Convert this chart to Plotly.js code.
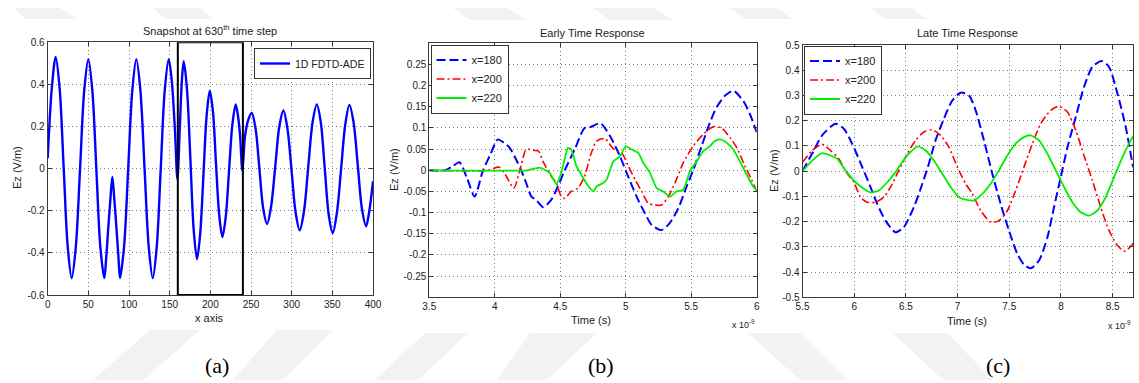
<!DOCTYPE html>
<html>
<head>
<meta charset="utf-8">
<script src="https://cdn.plot.ly/plotly-3.0.1.min.js"></script>
<style>
  html, body { margin: 0; padding: 0; background: #ffffff; }
  #chart { width: 1139px; height: 383px; }
</style>
</head>
<body>
<div id="chart"></div>
<script>
// ---- (a) spatial snapshot of Ez along the 1D grid ----
const snapX = [0,5,9.8,14.7,19.7,24.6,29.5,34.6,39.8,44.9,
  50,54.9,59.8,64.7,69.6,72,74.5,77,79.5,82,
  84.5,87,88.9,93.9,99,104,109,114,119.1,124.2,
  129.2,134.1,139,143.9,148.8,152.5,156.5,159.5,162.5,165,
  167.3,171.4,175.5,179.5,183.6,187.5,191.5,195.4,199.3,203.2,
  207,210.9,214.8,218.9,223,227.1,231.2,234,236.5,239.4,
  242.5,246.5,250.9,255.6,260.3,265,269.7,274.7,279.8,284.8,
  289.8,294.8,299.9,304.9,309.9,315.2,320.4,325.7,330.9,335.8,
  340.7,345.6,350.5,355.6,360.8,365.9,371,376.1,381.3,386.4,
  391.5,395.5,400];
const snapEz = [0.05,0.38,0.53,0.38,0.0,-0.37,-0.52,-0.37,0.0,0.37,
  0.52,0.37,0.0,-0.37,-0.52,-0.42,-0.28,-0.15,-0.04,-0.15,
  -0.28,-0.42,-0.52,-0.37,0.0,0.37,0.52,0.37,0.0,-0.37,
  -0.52,-0.37,0.0,0.37,0.52,0.42,0.18,-0.05,0.2,0.42,
  0.51,0.37,0.04,-0.29,-0.43,-0.31,-0.03,0.25,0.37,0.27,
  0.02,-0.22,-0.325,-0.23,-0.01,0.21,0.305,0.25,0.16,-0.01,
  0.15,0.23,0.264,0.19,0.0,-0.19,-0.263,-0.18,0.01,0.2,
  0.276,0.19,-0.01,-0.21,-0.293,-0.2,0.01,0.22,0.305,0.22,
  0.0,-0.22,-0.306,-0.21,0.0,0.21,0.303,0.22,0.015,-0.19,
  -0.274,-0.2,-0.06];
const slabStart = 160, slabEnd = 240;

// ---- (b) early time response (time in units of 1e-9 s) ----
const earlyT180 = [3.5,3.62,3.68,3.73,3.79,3.846,3.91,3.96,4.024,4.07,
  4.114,4.164,4.202,4.24,4.279,4.317,4.368,4.431,4.482,4.534,
  4.61,4.686,4.737,4.807,4.88,4.956,5.007,5.083,5.147,5.198,
  5.274,5.337,5.401,5.465,5.515,5.579,5.643,5.694,5.757,5.821,
  5.897,5.948,6.0];
const earlyE180 = [0,0,0.01,0.019,-0.02,-0.062,0,0.033,0.073,0.065,
  0.053,0.025,0,-0.03,-0.062,-0.07,-0.087,-0.07,-0.038,0,
  0.049,0.1,0.103,0.111,0.081,0.033,-0.006,-0.062,-0.102,-0.129,
  -0.141,-0.124,-0.09,-0.038,0,0.057,0.113,0.149,0.176,0.188,
  0.164,0.133,0.09];
const earlyT200 = [3.5,3.95,4.03,4.08,4.145,4.2,4.24,4.3,4.335,4.368,
  4.431,4.47,4.508,4.534,4.584,4.635,4.686,4.737,4.778,4.841,
  4.905,4.969,5.02,5.071,5.122,5.173,5.224,5.274,5.325,5.376,
  5.44,5.515,5.592,5.668,5.732,5.796,5.847,5.91,5.961,6.0];
const earlyE200 = [0,0,0.008,-0.01,-0.042,0.01,0.049,0.047,0.045,0.021,
  -0.014,-0.03,-0.062,-0.066,-0.05,-0.042,-0.014,0.041,0.069,0.075,
  0.051,0.041,0.01,-0.022,-0.05,-0.078,-0.082,-0.082,-0.062,-0.03,
  0.018,0.057,0.085,0.103,0.1,0.077,0.054,0.01,-0.022,-0.05];
const earlyT220 = [3.5,4.25,4.3,4.35,4.419,4.47,4.508,4.559,4.584,4.623,
  4.66,4.698,4.753,4.778,4.828,4.854,4.905,4.956,5.001,5.045,
  5.096,5.134,5.185,5.236,5.286,5.337,5.388,5.44,5.49,5.541,
  5.592,5.643,5.681,5.719,5.77,5.821,5.872,5.922,5.973,6.0];
const earlyE220 = [0,0,0.004,0.006,-0.006,-0.032,-0.006,0.053,0.049,0.01,
  -0.01,-0.03,-0.05,-0.038,-0.03,-0.022,0.021,0.033,0.057,0.049,
  0.041,0.018,-0.006,-0.042,-0.05,-0.062,-0.05,-0.046,-0.002,0.021,
  0.045,0.057,0.069,0.073,0.065,0.049,0.021,-0.01,-0.038,-0.048];

// ---- (c) late time response ----
const lateT180 = [5.5,5.61,5.69,5.82,5.9,5.98,6.078,6.158,6.223,6.303,
  6.4,6.48,6.577,6.659,6.722,6.787,6.868,6.949,7.03,7.11,
  7.175,7.255,7.336,7.417,7.497,7.578,7.642,7.707,7.788,7.869,
  7.933,7.998,8.063,8.143,8.223,8.304,8.394,8.465,8.547,8.627,
  8.692,8.7];
const lateE180 = [0.0,0.082,0.142,0.188,0.168,0.109,0.016,-0.063,-0.13,-0.196,
  -0.242,-0.222,-0.143,-0.05,0.029,0.122,0.208,0.28,0.311,0.3,
  0.241,0.122,-0.01,-0.13,-0.235,-0.328,-0.37,-0.385,-0.354,-0.262,
  -0.143,-0.024,0.095,0.214,0.333,0.413,0.437,0.413,0.307,0.175,
  0.029,0.015];
const lateT200 = [5.5,5.594,5.69,5.77,5.851,5.933,5.997,6.061,6.126,6.207,
  6.287,6.352,6.432,6.514,6.594,6.674,6.756,6.836,6.916,6.998,
  7.078,7.143,7.223,7.32,7.4,7.482,7.562,7.642,7.724,7.804,
  7.901,7.981,8.063,8.143,8.223,8.304,8.385,8.465,8.547,8.62,
  8.692,8.7];
const lateE200 = [0.035,0.082,0.106,0.082,0.049,-0.01,-0.044,-0.103,-0.123,-0.123,
  -0.103,-0.063,0.003,0.069,0.122,0.155,0.164,0.142,0.095,0.016,
  -0.05,-0.09,-0.156,-0.202,-0.196,-0.156,-0.077,0.016,0.109,0.188,
  0.241,0.257,0.234,0.162,0.062,-0.037,-0.143,-0.235,-0.295,-0.317,
  -0.29,-0.285];
const lateT220 = [5.5,5.594,5.69,5.77,5.836,5.916,6.013,6.093,6.158,6.239,
  6.32,6.4,6.465,6.529,6.616,6.691,6.771,6.852,6.933,7.013,
  7.078,7.159,7.24,7.32,7.4,7.482,7.562,7.642,7.707,7.788,
  7.869,7.95,8.03,8.111,8.192,8.272,8.353,8.433,8.514,8.595,
  8.675,8.7];
const lateE220 = [0.0,0.042,0.071,0.062,0.049,0.003,-0.044,-0.07,-0.085,-0.077,
  -0.044,-0.004,0.036,0.069,0.098,0.082,0.042,-0.01,-0.063,-0.103,
  -0.113,-0.116,-0.09,-0.05,0.003,0.062,0.109,0.135,0.142,0.122,
  0.069,0.003,-0.063,-0.123,-0.163,-0.176,-0.156,-0.103,-0.024,0.056,
  0.122,0.14];

// ---- tick values and labels ----
const ticksAX = [0,50,100,150,200,250,300,350,400];
const ticksAY = [-0.6,-0.4,-0.2,0,0.2,0.4,0.6];
const labelsAY = ['-0.6','-0.4','-0.2','0','0.2','0.4','0.6'];
const ticksBX = [3.5,4,4.5,5,5.5,6];
const ticksBY = [-0.25,-0.2,-0.15,-0.1,-0.05,0,0.05,0.1,0.15,0.2,0.25];
const labelsBY = ['-0.25','-0.2','-0.15','-0.1','-0.05','0','0.05','0.1','0.15','0.2','0.25'];
const ticksCX = [5.5,6,6.5,7,7.5,8,8.5];
const ticksCY = [-0.5,-0.4,-0.3,-0.2,-0.1,0,0.1,0.2,0.3,0.4,0.5];
const labelsCY = ['-0.5','-0.4','-0.3','-0.2','-0.1','0','0.1','0.2','0.3','0.4','0.5'];

// ---- page geometry helpers (pixel -> paper fraction) ----
const W = 1139, H = 383;
const px = v => v / W;
const py = v => 1 - v / H;

const SANS = '"Liberation Sans", Arial, Helvetica, sans-serif';
const SERIF = '"Liberation Serif", "Times New Roman", serif';
const INK = '#222222';

function axisStyle(extra) {
  return Object.assign({
    showline: true, mirror: 'ticks', linecolor: '#3a3a3a', linewidth: 1,
    ticks: 'inside', ticklen: 4, tickcolor: '#3a3a3a', tickwidth: 1,
    showgrid: true, gridcolor: '#7a7a7a', gridwidth: 1, griddash: '1px,3px',
    zeroline: false, fixedrange: true,
    tickfont: { family: SANS, size: 10, color: INK }
  }, extra);
}

const BLUE = '#0000ff', RED = '#ff0000', GREEN = '#00ee00';

const traces = [
  { x: snapX, y: snapEz, xaxis: 'x', yaxis: 'y', type: 'scatter', mode: 'lines',
    name: '1D FDTD-ADE', legend: 'legend',
    line: { color: BLUE, width: 2.4, shape: 'spline', smoothing: 0.9 } },

  { x: earlyT180, y: earlyE180, xaxis: 'x2', yaxis: 'y2', type: 'scatter', mode: 'lines',
    name: 'x=180', legend: 'legend2',
    line: { color: BLUE, width: 2, dash: '9px,4px', shape: 'spline', smoothing: 0.7 } },
  { x: earlyT200, y: earlyE200, xaxis: 'x2', yaxis: 'y2', type: 'scatter', mode: 'lines',
    name: 'x=200', legend: 'legend2',
    line: { color: RED, width: 1.6, dash: '8px,3px,2px,3px', shape: 'spline', smoothing: 0.7 } },
  { x: earlyT220, y: earlyE220, xaxis: 'x2', yaxis: 'y2', type: 'scatter', mode: 'lines',
    name: 'x=220', legend: 'legend2',
    line: { color: GREEN, width: 1.8, shape: 'spline', smoothing: 0.5 } },

  { x: lateT180, y: lateE180, xaxis: 'x3', yaxis: 'y3', type: 'scatter', mode: 'lines',
    name: 'x=180', legend: 'legend3',
    line: { color: BLUE, width: 2, dash: '9px,4px', shape: 'spline', smoothing: 0.7 } },
  { x: lateT200, y: lateE200, xaxis: 'x3', yaxis: 'y3', type: 'scatter', mode: 'lines',
    name: 'x=200', legend: 'legend3',
    line: { color: RED, width: 1.6, dash: '8px,3px,2px,3px', shape: 'spline', smoothing: 0.7 } },
  { x: lateT220, y: lateE220, xaxis: 'x3', yaxis: 'y3', type: 'scatter', mode: 'lines',
    name: 'x=220', legend: 'legend3',
    line: { color: GREEN, width: 1.8, shape: 'spline', smoothing: 0.5 } }
];

function legendBox(x, y, xanchor, size) {
  return {
    x: x, y: y, xanchor: xanchor, yanchor: 'top',
    xref: 'paper', yref: 'paper',
    bgcolor: '#ffffff', bordercolor: '#333333', borderwidth: 1,
    font: { family: SANS, size: size, color: INK },
    tracegroupgap: 0, itemwidth: 30
  };
}

function text(str, x, y, opts) {
  return Object.assign({
    text: str, x: px(x), y: py(y), xref: 'paper', yref: 'paper',
    showarrow: false, xanchor: 'center', yanchor: 'middle',
    font: { family: SANS, size: 11, color: INK }
  }, opts || {});
}

// faint diagonal background bands
function band(pts) {
  const d = pts.map((p, i) => (i ? 'L' : 'M') + px(p[0]).toFixed(5) + ',' + py(p[1]).toFixed(5)).join(' ') + ' Z';
  return { type: 'path', xref: 'paper', yref: 'paper', path: d,
           fillcolor: '#f2f2f2', line: { width: 0 }, layer: 'below' };
}

const bands = [
  band([[15,8],[60,8],[77,19],[25,19]]),
  band([[153,8],[200,8],[214,19],[166,19]]),
  band([[453,8],[507,8],[527,20],[470,20]]),
  band([[593,8],[653,8],[673,20],[610,20]]),
  band([[730,8],[776,8],[793,19],[745,19]]),
  band([[870,8],[912,8],[927,19],[885,19]]),
  band([[150,330],[200,330],[143,380],[93,380]]),
  band([[277,330],[333,330],[283,380],[233,380]]),
  band([[425,333],[468,333],[418,380],[375,380]]),
  band([[530,333],[597,333],[547,380],[497,380]]),
  band([[748,333],[800,333],[847,380],[800,380]]),
  band([[893,333],[947,333],[993,380],[943,380]])
];

const layout = {
  width: W, height: H, autosize: false,
  margin: { l: 0, r: 0, t: 0, b: 0, pad: 0 },
  paper_bgcolor: '#ffffff', plot_bgcolor: '#ffffff',
  font: { family: SANS, size: 10, color: INK },
  showlegend: true,

  xaxis: axisStyle({ domain: [px(47.7), px(373)], anchor: 'y', range: [0, 400],
                     tickvals: ticksAX }),
  yaxis: axisStyle({ domain: [py(295), py(42.3)], anchor: 'x', range: [-0.6, 0.6],
                     tickvals: ticksAY, ticktext: labelsAY }),
  xaxis2: axisStyle({ domain: [px(429.3), px(756.7)], anchor: 'y2', range: [3.5, 6],
                      tickvals: ticksBX, ticktext: ticksBX.map(String) }),
  yaxis2: axisStyle({ domain: [py(297.3), py(43.3)], anchor: 'x2', range: [-0.3, 0.3],
                      tickvals: ticksBY, ticktext: labelsBY }),
  xaxis3: axisStyle({ domain: [px(802.5), px(1133.3)], anchor: 'y3', range: [5.5, 8.7],
                      tickvals: ticksCX, ticktext: ticksCX.map(String) }),
  yaxis3: axisStyle({ domain: [py(297.3), py(45)], anchor: 'x3', range: [-0.5, 0.5],
                      tickvals: ticksCY, ticktext: labelsCY }),

  legend: legendBox(px(371), py(48), 'right', 10.5),
  legend2: legendBox(px(430.5), py(44.5), 'left', 11),
  legend3: legendBox(px(804), py(45.5), 'left', 11),

  shapes: bands.concat([
    { type: 'rect', xref: 'x', yref: 'y', x0: slabStart, x1: slabEnd, y0: -0.6, y1: 0.6,
      line: { color: '#000000', width: 2 }, fillcolor: 'rgba(0,0,0,0)', layer: 'above' }
  ]),

  annotations: [
    text('Snapshot at 630<sup>th</sup> time step', 210, 30),
    text('Early Time Response', 592, 33),
    text('Late Time Response', 967, 33),

    text('x axis', 209, 318),
    text('Time (s)', 591, 320),
    text('Time (s)', 967, 321),

    text('Ez (V/m)', 17, 168, { textangle: -90 }),
    text('Ez (V/m)', 394, 170, { textangle: -90 }),
    text('Ez (V/m)', 774, 171, { textangle: -90 }),

    text('x 10<sup>-9</sup>', 757, 324, { xanchor: 'right', font: { family: SANS, size: 9, color: INK } }),
    text('x 10<sup>-9</sup>', 1133, 325, { xanchor: 'right', font: { family: SANS, size: 9, color: INK } }),

    text('(a)', 217, 365, { font: { family: SERIF, size: 22, color: '#000000' } }),
    text('(b)', 601, 365, { font: { family: SERIF, size: 22, color: '#000000' } }),
    text('(c)', 998, 365, { font: { family: SERIF, size: 22, color: '#000000' } })
  ]
};

Plotly.newPlot('chart', traces, layout, { displayModeBar: false, staticPlot: true });
</script>
</body>
</html>
